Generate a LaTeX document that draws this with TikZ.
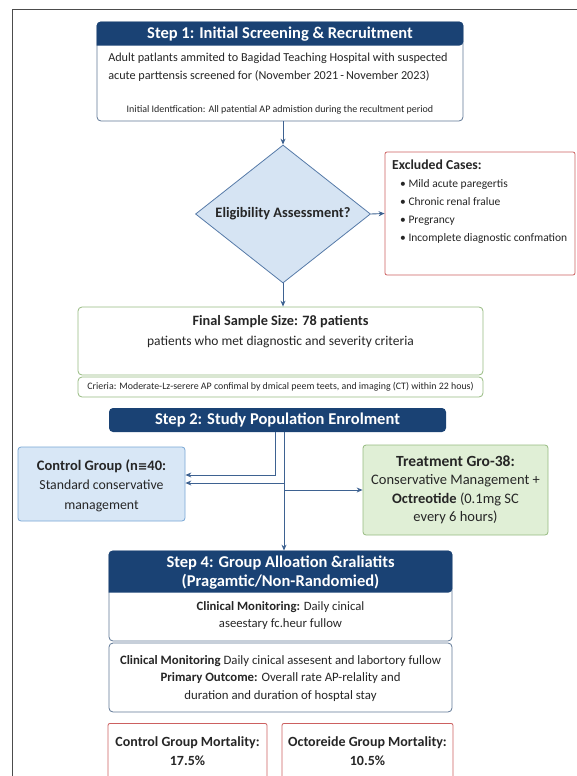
\documentclass[tikz,border=0pt]{standalone}
\usepackage{fontspec}
\setmainfont{Carlito}
\newfontfamily\symfont{DejaVu Sans}
\usetikzlibrary{shapes.geometric,arrows.meta,positioning}
\definecolor{navy}{RGB}{26,66,116}
\definecolor{boxblue}{RGB}{96,120,150}
\definecolor{linkblue}{RGB}{62,98,145}
\definecolor{dmdfill}{RGB}{214,228,243}
\definecolor{dmdline}{RGB}{86,122,168}
\definecolor{exred}{RGB}{204,96,96}
\definecolor{grnline}{RGB}{150,186,128}
\definecolor{grnfill}{RGB}{224,239,214}
\definecolor{ctlline}{RGB}{120,166,212}
\definecolor{ctlfill}{RGB}{216,231,246}
\definecolor{ink}{RGB}{38,38,38}
\begin{document}
\begin{tikzpicture}[x=1pt,y=-1pt,
  every node/.style={text=ink},
  frame/.style={draw=boxblue,fill=white,rounded corners=4pt,line width=0.8pt,inner sep=0pt},
  hdbar/.style={fill=navy,rounded corners=4pt,inner sep=0pt},
  hdtext/.style={text=white,font=\bfseries\fontsize{16.5}{19}\selectfont,align=center},
  bodytext/.style={align=center,font=\fontsize{12.5}{18}\selectfont},
  smalltext/.style={font=\fontsize{10}{12}\selectfont},
  arr/.style={draw=linkblue,line width=0.9pt,-{Stealth[length=6pt,width=5pt]}}]
\useasboundingbox (0,0) rectangle (577,776);
\draw[gray!60!black,line width=1pt] (577,10) -- (12,10) -- (12,776);
% step 1
\node[frame,minimum width=366pt,minimum height=99pt] (s1) at (280,71.5) {};
\fill[navy] ([yshift=-24pt]s1.north west) [rounded corners=4pt] |- (s1.north) -| ([yshift=-24pt]s1.north east) [sharp corners] -- cycle;
\node[hdtext] (s1t) at (280,34) {Step 1: Initial Screening \& Recruitment};
\node[bodytext,align=left,font=\fontsize{12.2}{18}\selectfont] (s1b) at (278,67.5) {Adult patlants ammited to Bagidad Teaching Hospital with suspected\\acute parttensis screened for (November 2021\,-\,November 2023)};
\node[smalltext] (s1s) at (280,109.5) {Initial Identfication: All patential AP admistion during the recultment period};
% eligibility
\node[diamond,draw=dmdline,fill=dmdfill,line width=0.8pt,inner sep=0pt,aspect=1.27,
  minimum width=175pt,minimum height=138pt,font=\bfseries\fontsize{14.4}{17}\selectfont] (el) at (283,214) {Eligibility Assessment?};
\node[frame,draw=exred,rounded corners=2pt,minimum width=190pt,minimum height=123pt] (ex) at (480,213.5) {};
\node[anchor=north west,align=left,inner sep=0pt,font=\fontsize{11.5}{17.8}\selectfont] (exl) at (392,160)
  {{\bfseries\fontsize{13.7}{17.8}\selectfont Excluded Cases:}\\
   \hspace*{8pt}• Mild acute paregertis\\
   \hspace*{8pt}• Chronic renal fralue\\
   \hspace*{8pt}• Pregrancy\\
   \hspace*{8pt}• Incomplete diagnostic confmation};
% final sample
\node[frame,draw=grnline,minimum width=405pt,minimum height=68pt] (fin) at (280.5,341) {};
\node[align=center,font=\fontsize{13.5}{20}\selectfont] (fint) at (280.5,332)
  {{\bfseries\fontsize{14.3}{20}\selectfont Final Sample Size: 78 patients}\\patients who met diagnostic and severity criteria};
\node[frame,draw=grnline,minimum width=405pt,minimum height=20pt] (crit) at (280.5,387) {};
\node[smalltext,font=\fontsize{9.9}{12}\selectfont] at (crit) {Crieria: Moderate-Lz-serere AP confimal by dmical peem teets, and imaging (CT) within 22 hous)};
% step 2
\node[hdbar,minimum width=337pt,minimum height=24pt] (s2) at (277.5,420) {};
\node[hdtext] at (s2) {Step 2: Study Population Enrolment};
\node[frame,draw=ctlline,fill=ctlfill,rounded corners=3pt,minimum width=167pt,minimum height=74pt] (ctrl) at (101.5,484) {};
\node[align=center,font=\fontsize{13.8}{19.5}\selectfont] at ([yshift=-1.5pt]ctrl) {{\bfseries\fontsize{14.5}{19.5}\selectfont Control Group (n{\symfont\fontsize{11.5}{12}\selectfont ≡}40:}\\Standard conservative\\management};
\node[frame,draw=grnline,fill=grnfill,rounded corners=3pt,minimum width=185pt,minimum height=90pt] (treat) at (455.5,490) {};
\node[align=center,font=\fontsize{14.5}{18.5}\selectfont] at (treat) {{\bfseries\fontsize{15.5}{18.5}\selectfont Treatment Gro-38:}\\Conservative Management +\\{\bfseries Octreotide} (0.1mg SC\\every 6 hours)};
% step 4
\node[frame,minimum width=343pt,minimum height=90pt] (s4) at (280.5,596) {};
\fill[navy] ([yshift=-42pt]s4.north west) [rounded corners=4pt] |- (s4.north) -| ([yshift=-42pt]s4.north east) [sharp corners] -- cycle;
\node[hdtext] (s4t) at (280.5,572.5) {Step 4: Group Alloation \&raliatits\\(Pragamtic/Non-Randomied)};
\node[bodytext,font=\fontsize{12.7}{17}\selectfont] (s4m) at (280.5,615.5) {{\bfseries Clinical Monitoring:} Daily cinical\\aseestary fc.heur fullow};
\node[frame,minimum width=343pt,minimum height=69pt] (s4b) at (280.5,677.5) {};
\node[bodytext,font=\fontsize{12.8}{17.5}\selectfont] at ([yshift=-1pt]s4b) {{\bfseries Clinical Monitoring} Daily cinical assesent and labortory fullow\\{\bfseries Primary Outcome:} Overall rate AP-relality and\\duration and duration of hosptal stay};
% outcomes
\node[frame,draw=exred,rounded corners=2pt,minimum width=159pt,minimum height=56pt,anchor=north,
  align=center,font=\bfseries\fontsize{14}{19}\selectfont] (m1) at (187.5,723) {Control Group Mortality:\\17.5\%};
\node[frame,draw=exred,rounded corners=2pt,minimum width=171pt,minimum height=56pt,anchor=north,
  align=center,font=\bfseries\fontsize{14}{19}\selectfont] (m2) at (367.5,723) {Octoreide Group Mortality:\\10.5\%};
% connectors
\draw[arr] (s1.south -| el.north) -- (el.north);
\draw[arr] (el.east) -- (ex.west);
\draw[arr] (el.south) -- (el.south |- fin.north);
\coordinate (jn) at (284,483);
\draw[arr] ([xshift=-9pt]s2.south -| jn) |- ([yshift=9pt]ctrl.east);
\draw[arr] (s2.south -| jn) -- (s4.north -| jn);
\draw[arr] (jn) -- (jn -| ctrl.east);
\draw[arr] (jn |- treat.west) -- (treat.west);
\end{tikzpicture}
\end{document}
